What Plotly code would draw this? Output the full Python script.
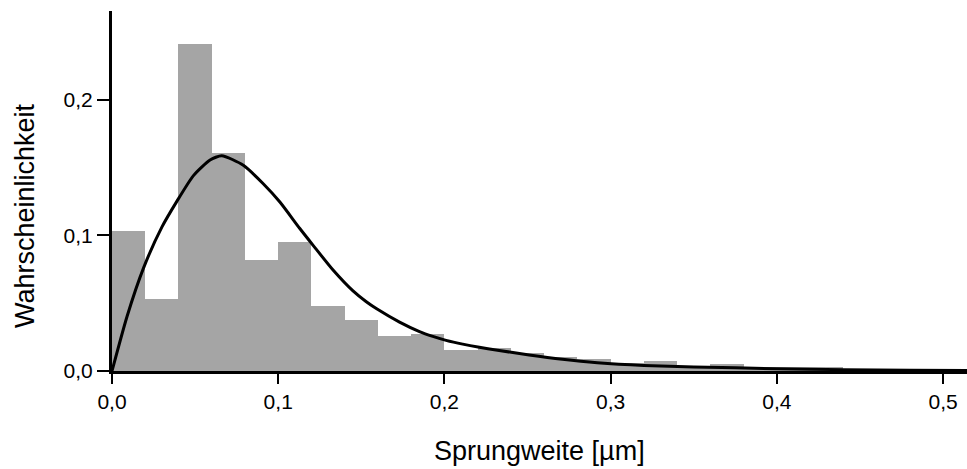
import plotly.graph_objects as go

# Histogram (bin width 0.02 µm), left bin edges and probabilities
bin_left = [0.00, 0.02, 0.04, 0.06, 0.08, 0.10, 0.12, 0.14, 0.16, 0.18,
            0.20, 0.22, 0.24, 0.26, 0.28, 0.30, 0.32, 0.34, 0.36, 0.38,
            0.40, 0.42, 0.44, 0.46, 0.48, 0.50]
bin_prob = [0.1035, 0.0527, 0.2410, 0.1610, 0.0817, 0.0950, 0.0480, 0.0375, 0.0256, 0.0276,
            0.0155, 0.0167, 0.0130, 0.0101, 0.0086, 0.0060, 0.0071, 0.0035, 0.0052, 0.0032,
            0.0030, 0.0030, 0.0015, 0.0012, 0.0015, 0.0012]
bin_width = 0.02

# Fitted curve
curve_x = [0.000, 0.009, 0.019, 0.030, 0.039, 0.049, 0.059, 0.066, 0.079, 0.091,
           0.101, 0.113, 0.121, 0.133, 0.145, 0.153, 0.159, 0.173, 0.185, 0.193,
           0.201, 0.211, 0.221, 0.231, 0.251, 0.271, 0.292, 0.320, 0.350, 0.400,
           0.440, 0.480, 0.515]
curve_y = [0.000, 0.040, 0.076, 0.106, 0.125, 0.1440, 0.1555, 0.1587, 0.1516, 0.138,
           0.1245, 0.1050, 0.0926, 0.0744, 0.0590, 0.0510, 0.0460, 0.0360, 0.0290, 0.0255,
           0.0226, 0.0198, 0.0175, 0.0155, 0.0118, 0.0086, 0.0061, 0.0041, 0.0030, 0.0017,
           0.0010, 0.0006, 0.0004]

x_ticks = [0.0, 0.1, 0.2, 0.3, 0.4, 0.5]
x_ticktext = ["0,0", "0,1", "0,2", "0,3", "0,4", "0,5"]
y_ticks = [0.0, 0.1, 0.2]
y_ticktext = ["0,0", "0,1", "0,2"]

FONT = "Arial, Liberation Sans, sans-serif"

fig = go.Figure()
fig.add_trace(go.Bar(
    x=[b + bin_width / 2 for b in bin_left], y=bin_prob, width=bin_width,
    marker=dict(color="#a5a5a5", line=dict(width=0)), showlegend=False,
))
fig.add_trace(go.Scatter(
    x=curve_x, y=curve_y, mode="lines", line=dict(color="black", width=3, shape="spline", smoothing=0.6),
    showlegend=False,
))

fig.update_layout(
    width=967, height=469,
    margin=dict(l=112, r=0, t=11, b=98),
    paper_bgcolor="white", plot_bgcolor="white",
    bargap=0,
    font=dict(family=FONT, size=21, color="black"),
    xaxis=dict(range=[0, 0.5144], tickvals=x_ticks, ticktext=x_ticktext,
               showgrid=False, zeroline=False, showline=True, linecolor="black", linewidth=3,
               ticks="outside", ticklen=10, tickwidth=2, tickcolor="black",
               tickfont=dict(size=21, family=FONT)),
    yaxis=dict(range=[0, 0.2653], tickvals=y_ticks, ticktext=y_ticktext,
               showgrid=False, zeroline=False, showline=True, linecolor="black", linewidth=3,
               ticks="outside", ticklen=12, tickwidth=2, tickcolor="black",
               tickfont=dict(size=21, family=FONT)),
    annotations=[
        dict(text="Sprungweite [µm]", xref="paper", yref="paper", x=0.5, y=-0.222,
             xanchor="center", yanchor="middle", showarrow=False,
             font=dict(size=27, family=FONT, color="black")),
        dict(text="Wahrscheinlichkeit", xref="paper", yref="paper", x=-0.1018, y=0.433,
             xanchor="center", yanchor="middle", textangle=-90, showarrow=False,
             font=dict(size=27, family=FONT, color="black")),
    ],
)

fig.write_html("out.html", config={"displayModeBar": False},
               post_script="document.body.style.margin='0';document.body.style.overflow='hidden';")
